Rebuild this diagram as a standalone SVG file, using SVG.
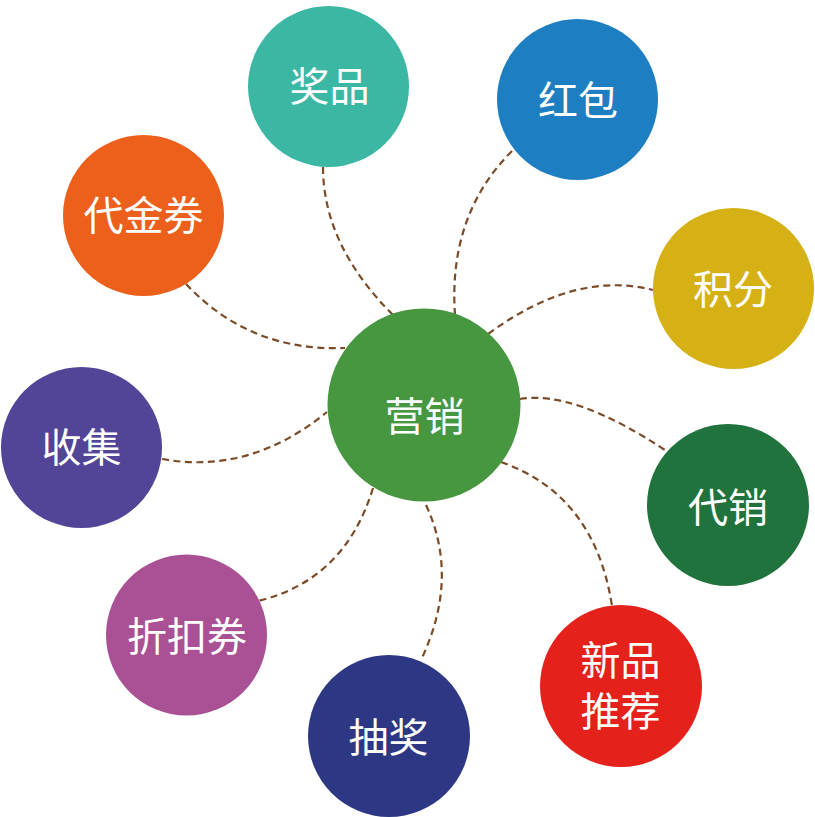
<svg xmlns="http://www.w3.org/2000/svg" width="815" height="817" viewBox="0 0 815 817">
<style>
.link{fill:none;stroke:#7b4a26;stroke-width:2.2;stroke-dasharray:7 4.5}
.lbl{fill:#ffffff;font-family:"Noto Sans CJK SC","Noto Sans",sans-serif;font-size:40px;text-anchor:middle}
</style>
<rect width="815" height="817" fill="#ffffff"/>
<g id="connectors">
<path class="link" d="M323,167 Q323,245 393,315"/>
<path class="link" d="M512,151 Q448,215 455,315"/>
<path class="link" d="M488,334 Q575,270 653,290"/>
<path class="link" d="M186,284 Q250,352 345,348"/>
<path class="link" d="M162,459 Q250,475 327,412"/>
<path class="link" d="M520,399 Q575,390 668,452"/>
<path class="link" d="M501,462 Q595,495 612,606"/>
<path class="link" d="M426,505 Q460,578 421,660"/>
<path class="link" d="M373,488 Q345,580 258,601"/>
</g>
<g id="n-center"><circle cx="424" cy="405" r="96.5" fill="#46973f"/><text class="lbl" x="424.5" y="431">营销</text></g>
<g id="n-jiangpin"><circle cx="328.5" cy="86.5" r="80.5" fill="#3cb7a4"/><text class="lbl" x="329.5" y="101">奖品</text></g>
<g id="n-hongbao"><circle cx="577.5" cy="99.5" r="80.5" fill="#1d7fc2"/><text class="lbl" x="578" y="115">红包</text></g>
<g id="n-daijinquan"><circle cx="143.5" cy="215.5" r="80.5" fill="#ec601c"/><text class="lbl" x="143.5" y="230">代金券</text></g>
<g id="n-jifen"><circle cx="733.5" cy="288.5" r="80.5" fill="#d6b116"/><text class="lbl" x="733" y="304">积分</text></g>
<g id="n-shouji"><circle cx="81.5" cy="447.5" r="80.5" fill="#524497"/><text class="lbl" x="81.5" y="461.5">收集</text></g>
<g id="n-daixiao"><circle cx="728" cy="505" r="81" fill="#20733d"/><text class="lbl" x="728" y="522">代销</text></g>
<g id="n-zhekouquan"><circle cx="186.5" cy="635" r="80.5" fill="#aa5095"/><text class="lbl" x="187" y="651">折扣券</text></g>
<g id="n-xinpin"><circle cx="621" cy="686" r="81" fill="#e4211b"/><text class="lbl"><tspan x="620.5" y="675">新品</tspan><tspan x="620.5" y="726">推荐</tspan></text></g>
<g id="n-choujiang"><circle cx="389" cy="736" r="81" fill="#2d3783"/><text class="lbl" x="388.5" y="751.5">抽奖</text></g>
</svg>
